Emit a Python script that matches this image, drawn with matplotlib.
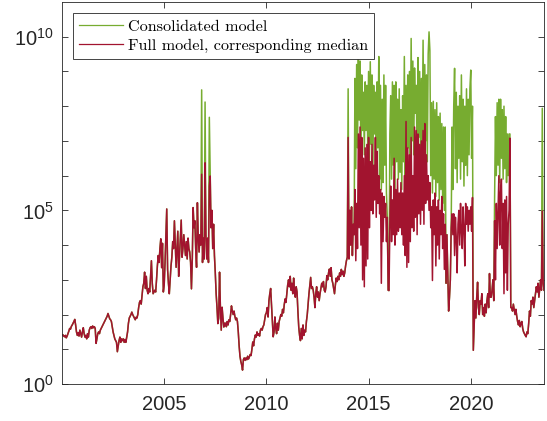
import numpy as np
import matplotlib.pyplot as plt
from matplotlib.ticker import FixedLocator, NullFormatter, LogFormatterSciNotation

plt.rcParams['font.family'] = ['Liberation Sans', 'DejaVu Sans']
plt.rcParams['mathtext.fontset'] = 'custom'
plt.rcParams['mathtext.rm'] = 'Liberation Sans'

# half-monthly samples, log10 of the value
start_year = 2000
steps_per_year = 24

full_median_log10 = [
    # 2000
    1.40, 1.42, 1.38, 1.36, 1.40, 1.33, 1.38, 1.45, 1.52, 1.60, 1.58, 1.66,
    1.70, 1.75, 1.80, 1.86, 1.70, 1.50, 1.40, 1.48, 1.38, 1.55, 1.45, 1.35,
    # 2001
    1.50, 1.62, 1.45, 1.35, 1.40, 1.30, 1.45, 1.35, 1.55, 1.62, 1.65, 1.60,
    1.67, 1.62, 1.65, 1.60, 1.17, 1.30, 1.45, 1.50, 1.45, 1.55, 1.60, 1.65,
    # 2002
    1.70, 1.75, 1.80, 1.85, 1.90, 1.95, 2.03, 1.95, 1.88, 1.85, 1.80, 1.65,
    1.50, 1.40, 1.30, 1.25, 1.20, 0.93, 1.10, 1.25, 1.35, 1.20, 1.30, 1.25,
    # 2003
    1.30, 1.20, 1.28, 1.20, 1.35, 1.50, 1.75, 1.90, 1.95, 2.00, 2.07, 2.00,
    1.95, 1.90, 1.85, 1.92, 1.90, 2.00, 2.20, 2.35, 2.40, 2.30, 2.55, 2.80,
    # 2004
    2.90, 3.22, 2.75, 3.10, 2.70, 2.60, 2.75, 2.65, 3.10, 3.55, 2.90, 2.60,
    2.65, 2.70, 2.65, 3.00, 3.40, 3.70, 3.50, 3.90, 4.18, 3.35, 4.05, 2.65,
    # 2005
    2.85, 3.50, 4.30, 5.04, 3.30, 2.90, 2.60, 3.00, 3.40, 3.65, 4.10, 3.90,
    4.70, 4.00, 3.36, 3.90, 4.40, 3.10, 3.70, 4.20, 4.72, 3.65, 3.90, 4.30,
    # 2006
    4.00, 3.70, 4.10, 3.60, 4.20, 3.90, 3.80, 3.50, 2.74, 3.60, 5.08, 4.50,
    4.70, 3.90, 3.36, 5.22, 4.20, 3.80, 4.30, 4.00, 6.04, 3.50, 4.20, 3.60,
    # 2007
    6.37, 4.30, 3.60, 4.20, 3.50, 5.70, 5.99, 4.50, 5.00, 3.90, 4.60, 3.70,
    3.20, 2.60, 2.21, 1.74, 1.90, 3.22, 2.20, 1.55, 2.21, 1.90, 1.64, 1.75,
    # 2008
    1.75, 1.65, 1.80, 1.70, 1.85, 1.80, 2.00, 2.25, 2.10, 2.00, 2.10, 1.95,
    1.85, 1.90, 1.80, 1.50, 1.10, 0.80, 0.65, 0.55, 0.40, 0.70, 0.75, 0.68,
    # 2009
    0.75, 0.70, 0.80, 0.72, 0.78, 0.85, 0.82, 1.00, 1.21, 1.10, 1.30, 1.41,
    1.35, 1.50, 1.40, 1.45, 1.38, 1.55, 1.60, 1.55, 1.65, 1.70, 1.85, 2.00,
    # 2010
    2.05, 2.20, 1.93, 2.40, 2.60, 2.75, 2.30, 1.80, 1.36, 1.50, 1.93, 1.60,
    1.45, 1.75, 1.55, 1.80, 1.90, 2.00, 1.95, 2.15, 2.05, 2.29, 2.45, 2.35,
    # 2011
    2.60, 2.85, 3.00, 2.80, 3.10, 2.70, 2.90, 2.60, 3.05, 2.70, 2.50, 2.80,
    2.65, 2.10, 1.64, 1.40, 1.25, 1.60, 1.30, 1.70, 1.40, 1.55, 1.50, 1.80,
    # 2012
    2.00, 2.30, 2.60, 2.85, 3.07, 2.75, 2.80, 2.70, 2.50, 2.20, 2.60, 2.80,
    2.50, 2.65, 2.40, 2.60, 2.75, 2.90, 2.80, 2.95, 2.70, 2.65, 2.80, 3.12,
    # 2013
    3.00, 3.20, 3.31, 3.10, 3.35, 3.00, 2.90, 2.75, 2.60, 2.85, 3.05, 2.95,
    3.10, 3.00, 3.20, 3.10, 3.30, 3.15, 3.25, 3.10, 3.20, 3.40, 3.55, 3.65,
    # 2014
    7.10, 3.60, 5.00, 4.00, 5.10, 3.70, 4.60, 4.30, 5.60, 3.55, 5.20, 3.90,
    7.20, 4.50, 7.40, 4.00, 7.10, 3.00, 6.50, 2.80, 6.80, 3.40, 6.90, 3.60,
    # 2015
    7.10, 4.50, 6.40, 5.00, 6.90, 4.90, 6.30, 5.30, 7.10, 4.80, 6.70, 5.20,
    6.00, 4.90, 5.60, 2.90, 5.50, 4.10, 5.40, 4.80, 5.20, 4.10, 4.80, 2.70,
    # 2016
    2.69, 4.60, 5.70, 4.10, 5.30, 4.30, 6.50, 4.00, 5.60, 4.30, 5.90, 4.40,
    5.50, 4.50, 5.80, 4.30, 5.50, 4.00, 6.00, 3.70, 7.56, 3.36, 6.80, 3.50,
    # 2017
    6.60, 4.10, 7.10, 4.50, 6.00, 4.40, 7.40, 4.80, 7.30, 4.30, 7.20, 4.90,
    6.90, 4.60, 7.00, 5.00, 7.30, 4.60, 7.50, 5.20, 6.60, 5.30, 6.00, 5.00,
    # 2018
    5.80, 4.50, 5.10, 2.98, 5.30, 4.30, 5.50, 3.40, 5.10, 4.00, 5.30, 3.60,
    5.00, 4.30, 5.40, 3.90, 4.90, 3.30, 4.60, 2.90, 4.30, 3.20, 2.10, 2.50,
    # 2019
    3.00, 4.50, 4.90, 4.30, 4.90, 3.70, 4.80, 4.20, 3.20, 4.60, 5.00, 4.00,
    5.20, 4.40, 3.90, 5.10, 4.50, 3.40, 5.20, 4.60, 5.10, 4.40, 5.00, 4.60,
    # 2020
    5.10, 4.40, 5.37, 0.97, 1.70, 2.40, 1.90, 2.50, 2.93, 2.20, 2.00, 2.40,
    2.30, 2.60, 2.00, 2.20, 1.95, 2.30, 2.05, 2.40, 2.60, 2.20, 3.18, 2.50,
    # 2021
    2.50, 2.70, 3.00, 2.40, 4.70, 3.00, 5.20, 3.90, 5.00, 6.00, 4.00, 5.50,
    5.90, 3.90, 5.20, 2.60, 5.30, 3.20, 5.40, 2.70, 4.60, 5.00, 7.08, 2.20,
    # 2022
    2.20, 2.10, 2.30, 2.15, 2.00, 2.15, 1.95, 1.80, 1.70, 1.83, 1.65, 1.75,
    1.80, 1.60, 1.50, 1.45, 1.40, 1.36, 1.50, 1.45, 1.74, 2.10, 1.95, 2.40,
    # 2023
    2.30, 2.50, 2.20, 2.40, 2.60, 2.80, 2.65, 2.90, 2.50, 2.75, 3.00, 2.70,
    4.98, 2.90, 2.70,
]

# consolidated model where it departs from the full model median
# (None = same value as the median); each list starts at the given time
cons_2006_start = 2006 + 20 / 24
cons_2006 = [8.47, None, None, None, 8.12, None, None, None, None, 7.68]

cons_2014_start = 2014.0
cons_2014_2020 = [
    # 2014
    8.50, None, None, None, None, None, None, None, 8.80, 6.20, 9.20, 6.80,
    9.40, 7.60, 9.30, 6.50, 8.90, 7.30, 8.40, 6.60, 8.70, 7.30, 8.60, 6.90,
    # 2015
    9.00, 6.40, 9.28, 6.90, 8.90, 6.00, 8.60, 7.20, 8.40, 6.10, 8.70, 6.80,
    9.43, 5.90, 8.60, 5.60, 8.20, 5.80, 8.90, 6.30, 8.60, 5.50, None, None,
    # 2016
    None, 7.20, 8.30, 5.90, 8.70, 6.30, 8.60, 5.60, 8.70, 6.40, 8.20, 5.90,
    8.50, 6.10, 7.90, 5.60, 8.30, 6.40, 9.43, 5.90, 8.60, 6.20, 8.90, 6.80,
    # 2017
    9.00, 6.50, 9.95, 7.00, 9.30, 6.60, 9.10, 7.80, 8.60, 6.40, 9.40, 7.10,
    9.00, 6.70, 8.80, 6.90, 9.90, 6.60, 9.20, 7.00, 8.90, 6.40, 9.50, 10.14,
    # 2018
    9.60, 6.00, 8.10, 5.50, 8.14, 5.90, 7.90, 5.40, 8.10, 5.80, 7.70, 5.30,
    7.80, 5.60, 7.50, 5.20, 7.40, 5.00, 7.40, None, None, None, None, None,
    # 2019
    None, None, 7.40, 5.60, 8.00, 9.09, 6.20, 8.40, 5.80, 8.00, 6.50, 8.30,
    5.90, 8.90, 6.40, 8.20, 5.70, 8.00, 6.30, 8.50, 6.00, 8.20, 6.60, 8.50,
    # 2020
    9.04, 6.50, 8.00,
]

cons_2021_start = 2021 + 4 / 24
cons_2021 = [5.37, 7.70, 6.00, 8.10, 6.30, 8.20, 5.80, 8.20, 6.50, 7.90,
             5.90, 8.00, 6.20, 7.70, 5.80, 7.20, 6.00, 7.20, 7.20]

cons_2023_start = 2023 + 12 / 24
cons_2023 = [7.94]

full = np.array(full_median_log10)
t = start_year + np.arange(len(full)) / steps_per_year

cons = full.copy()
for t0, vals in [(cons_2006_start, cons_2006), (cons_2014_start, cons_2014_2020),
                 (cons_2021_start, cons_2021), (cons_2023_start, cons_2023)]:
    i0 = int(round((t0 - start_year) * steps_per_year))
    for j, v in enumerate(vals):
        if v is not None:
            cons[i0 + j] = v

green = '#77AC30'
red = '#A2142F'
axcol = '#262626'

fig = plt.figure(figsize=(5.47, 4.21), dpi=100)
ax = fig.add_axes([62 / 547, 37 / 421, 482 / 547, 382 / 421])

ax.semilogy(t, 10 ** cons, color=green, lw=1.1, label='Consolidated model')
ax.semilogy(t, 10 ** full, color=red, lw=1.1,
            label='Full model, corresponding median')

ax.set_xlim(start_year, t[-1])
ax.set_ylim(1, 1e11)

ax.set_xticks([2005, 2010, 2015, 2020])
ax.yaxis.set_major_locator(FixedLocator([1, 1e5, 1e10]))
ax.yaxis.set_major_formatter(LogFormatterSciNotation())
ax.yaxis.set_minor_locator(FixedLocator([10.0 ** k for k in range(1, 11) if k not in (5, 10)]))
ax.yaxis.set_minor_formatter(NullFormatter())

ax.tick_params(which='both', direction='in', top=True, right=True,
               length=4.5, width=0.6, color=axcol, labelcolor=axcol,
               labelsize=14.5)
ax.tick_params(axis='x', pad=8)
ax.tick_params(axis='y', pad=6)
for s in ax.spines.values():
    s.set_color(axcol)
    s.set_linewidth(0.6)

leg = ax.legend(loc='upper left', bbox_to_anchor=(11 / 482, 1 - 11 / 382),
                borderaxespad=0, fancybox=False, framealpha=1,
                edgecolor=axcol, prop={'family': 'cmr10', 'size': 11.7},
                handlelength=2.7, handletextpad=0.3, labelspacing=0.3,
                borderpad=0.38)
leg.get_frame().set_linewidth(0.6)
for h in leg.get_lines():
    h.set_linewidth(0.9)

fig.savefig('out.png', dpi=100)
